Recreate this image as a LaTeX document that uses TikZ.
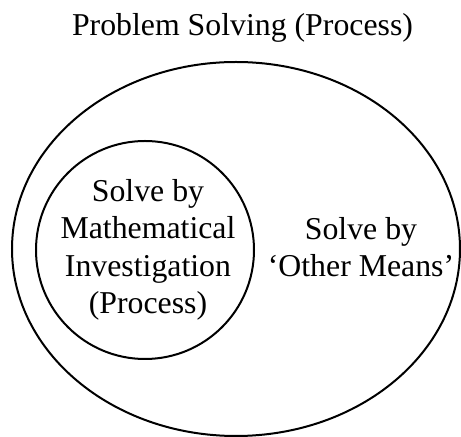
\documentclass[tikz,border=0pt]{standalone}
\usepackage{fontspec}
\setmainfont{Liberation Serif}
\usetikzlibrary{positioning}
\tikzset{ring/.style={draw=black,line width=1pt},words/.style={align=center,inner sep=0pt,font=\fontsize{15.9}{18.75}\selectfont}}
\begin{document}
\begin{tikzpicture}[x=0.5pt,y=-0.5pt]
\useasboundingbox (0,0) rectangle (461,437);
\node[words,anchor=base] (title) at (242.5,36) {Problem Solving (Process)};
\draw[ring] (236,249) ellipse [x radius=224,y radius=187];
\draw[ring] (145,250) circle [radius=109];
\node[words] (inner) at (148,250) {Solve by\\Mathematical\\Investigation\\(Process)};
\node[words] (outer) at (361,247) {Solve by\\`Other Means'};
\end{tikzpicture}
\end{document}
